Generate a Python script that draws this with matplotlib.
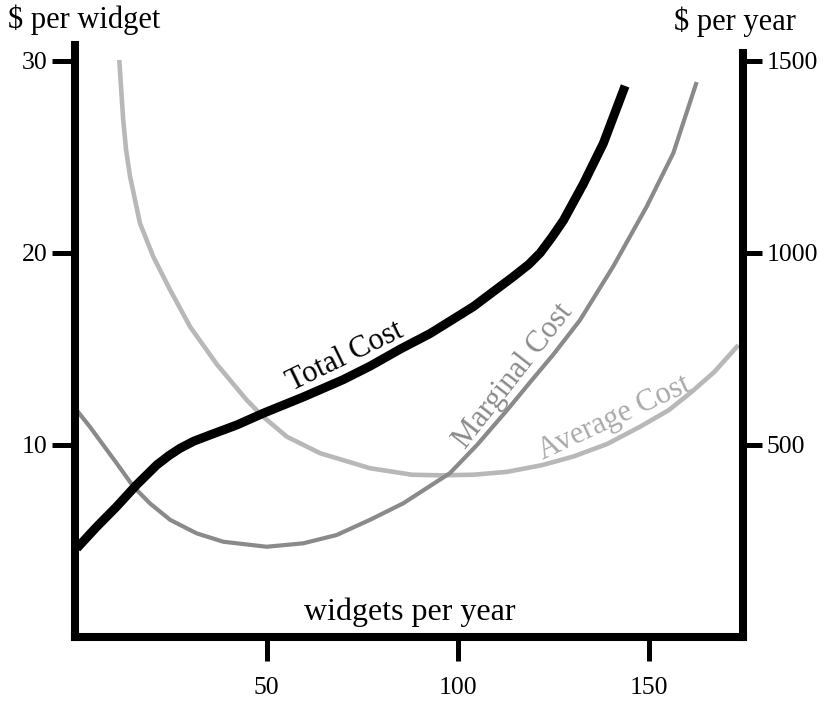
import matplotlib
matplotlib.use("Agg")
import matplotlib.pyplot as plt

plt.rcParams['font.family'] = ['Liberation Serif', 'DejaVu Serif']

# values ($ per widget vs widgets per year)
total_x = [0.4, 5.6, 10.8, 16.0, 21.3, 24.5, 27.4, 31, 35.2, 42.2, 49.1, 59.6, 70, 77, 85, 92.7,
           104, 114.5, 118.5, 121.5, 124.5, 127.6, 132.8, 138, 143.7]
total_y = [4.62, 5.74, 6.79, 7.92, 8.96, 9.45, 9.83, 10.2, 10.52, 11.04, 11.65, 12.5, 13.4, 14.1, 15.0, 15.8,
           17.2, 18.77, 19.4, 20.0, 20.8, 21.7, 23.6, 25.7, 28.7]

marginal_x = [0.4, 3.8, 7.3, 10.8, 15.2, 19.5, 24.8, 31.7, 38.7, 50, 59.6, 68.3, 77, 85.7,
              97.9, 105, 112.8, 119, 124.9, 131.9, 140.6, 149.3, 156.3, 162.4]
marginal_y = [11.8, 10.95, 10.0, 9.05, 7.83, 6.96, 6.1, 5.4, 4.96, 4.7, 4.88, 5.31, 6.1, 6.96,
              8.53, 10.0, 11.8, 13.3, 14.7, 16.5, 19.3, 22.4, 25.2, 28.9]

average_x = [11.5, 12.0, 12.5, 13.25, 14.3, 16.9, 20.4, 24.8, 30.0, 37.0, 44.8, 49.1, 55.3, 64, 77, 88,
             95.3, 104, 112.8, 122, 130.2, 139, 147.6, 155, 160.7, 167, 173.3]
average_y = [30.05, 28.5, 27.0, 25.4, 24.0, 21.55, 19.8, 18.07, 16.16, 14.2, 12.34, 11.47, 10.43, 9.57, 8.79, 8.45,
             8.42, 8.45, 8.6, 8.95, 9.4, 10.05, 10.95, 11.8, 12.7, 13.8, 15.2]

left_ticks = [10, 20, 30]
right_ticks = [500, 1000, 1500]
x_ticks = [50, 100, 150]

y_max = 30.83
x_max = 174.6

fig = plt.figure(figsize=(8.31, 7.02), dpi=100)
ax = fig.add_axes([0.0906, 0.0926, 0.8039, 0.8433])

ax.plot(average_x, average_y, color='#b8b8b8', lw=3.3, solid_capstyle='butt', solid_joinstyle='round')
ax.plot(marginal_x, marginal_y, color='#8a8a8a', lw=3.0, solid_capstyle='butt', solid_joinstyle='round')
ax.plot(total_x, total_y, color='black', lw=6.5, solid_capstyle='butt', solid_joinstyle='round')

ax.set_xlim(0, x_max)
ax.set_ylim(0, y_max)
ax.set_xticks(x_ticks)
ax.set_yticks(left_ticks)
ax.tick_params(axis='y', length=16.5, width=3.6, pad=3.5, labelsize=18.5, direction='out')
ax.tick_params(axis='x', length=17, width=3.6, pad=12, labelsize=18.5, direction='out')

ax2 = ax.twinx()
ax2.set_ylim(0, y_max * 50)
ax2.set_yticks(right_ticks)
ax2.tick_params(axis='y', length=14, width=3.6, pad=3, labelsize=18.5, direction='out')

for a in (ax, ax2):
    a.spines['top'].set_visible(False)
    for s in ('left', 'right', 'bottom'):
        a.spines[s].set_linewidth(5.8)
        a.spines[s].set_capstyle('projecting')
ax.spines['right'].set_visible(False)
ax2.spines['left'].set_visible(False)
ax2.spines['bottom'].set_visible(False)
ax2.spines['right'].set_bounds(0, 30.4 * 50)

# curve labels
ax.text(70.5, 14.6, 'Total Cost', rotation=26, fontsize=22, ha='center', va='center', color='black')
ax.text(114.4, 13.6, 'Marginal Cost', rotation=52, fontsize=22, ha='center', va='center', color='#8a8a8a')
ax.text(141, 11.4, 'Average Cost', rotation=25, fontsize=22, ha='center', va='center', color='#aaaaaa')
ax.text(87.5, 1.3, 'widgets per year', fontsize=23, ha='center', va='center')

fig.text(8 / 831, 1 - 20 / 702, '$ per widget', fontsize=22, ha='left', va='center')
fig.text(735 / 831, 1 - 22 / 702, '$ per year', fontsize=22, ha='center', va='center')

fig.savefig('out.png', dpi=100)
